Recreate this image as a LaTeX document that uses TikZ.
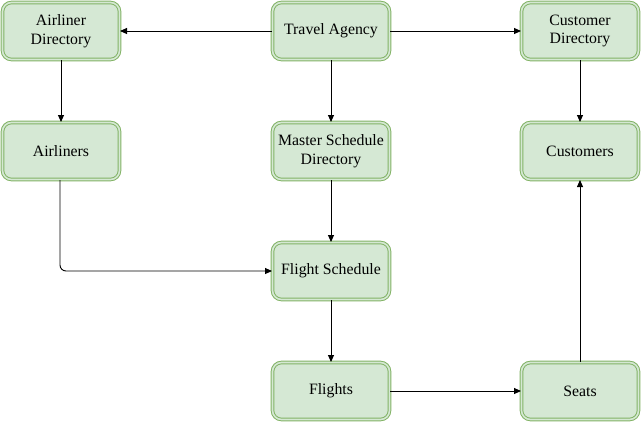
\documentclass[tikz,border=0pt]{standalone}
\usepackage{fontspec}
\setmainfont{Liberation Serif}
\usetikzlibrary{arrows.meta}
\definecolor{boxfill}{HTML}{D5E8D4}
\definecolor{boxline}{HTML}{82B366}
\begin{document}
\begin{tikzpicture}[x=1bp,y=-1bp,
  box/.style={draw=boxline, line width=1bp, double=boxfill, double distance=1.6bp, fill=boxfill,
    rounded corners=9bp, minimum width=117bp, minimum height=57bp, align=center,
    inner sep=0pt, font=\fontsize{15.8bp}{18.5bp}\selectfont},
  conn/.style={draw=black, line width=0.9bp, -{Triangle[length=7bp,width=6bp]}, rounded corners=6bp}]
\useasboundingbox (0,0) rectangle (641,421);
\node[box] (ad) at (61,31) {Airliner\\Directory};
\node[box] (ta) at (331,31) {Travel Agency};
\node[box] (cd) at (580,31) {Customer\\Directory};
\node[box] (al) at (61,151) {Airliners};
\node[box] (ms) at (331,151) {Master Schedule\\Directory};
\node[box] (cu) at (580,151) {Customers};
\node[box] (fs) at (331,271) {Flight Schedule};
\node[box] (fl) at (331,391) {Flights};
\node[box] (se) at (580,391) {Seats};
\draw[conn] (ta) -- (ad);
\draw[conn] (ta) -- (cd);
\draw[conn] (ta) -- (ms);
\draw[conn] (ad) -- (al);
\draw[conn] (cd) -- (cu);
\draw[conn] (ms) -- (fs);
\draw[conn] (al.south -| 60,0) |- (fs.west);
\draw[conn] (fs) -- (fl);
\draw[conn] (fl) -- (se);
\draw[conn] (se) -- (cu);
\end{tikzpicture}
\end{document}
